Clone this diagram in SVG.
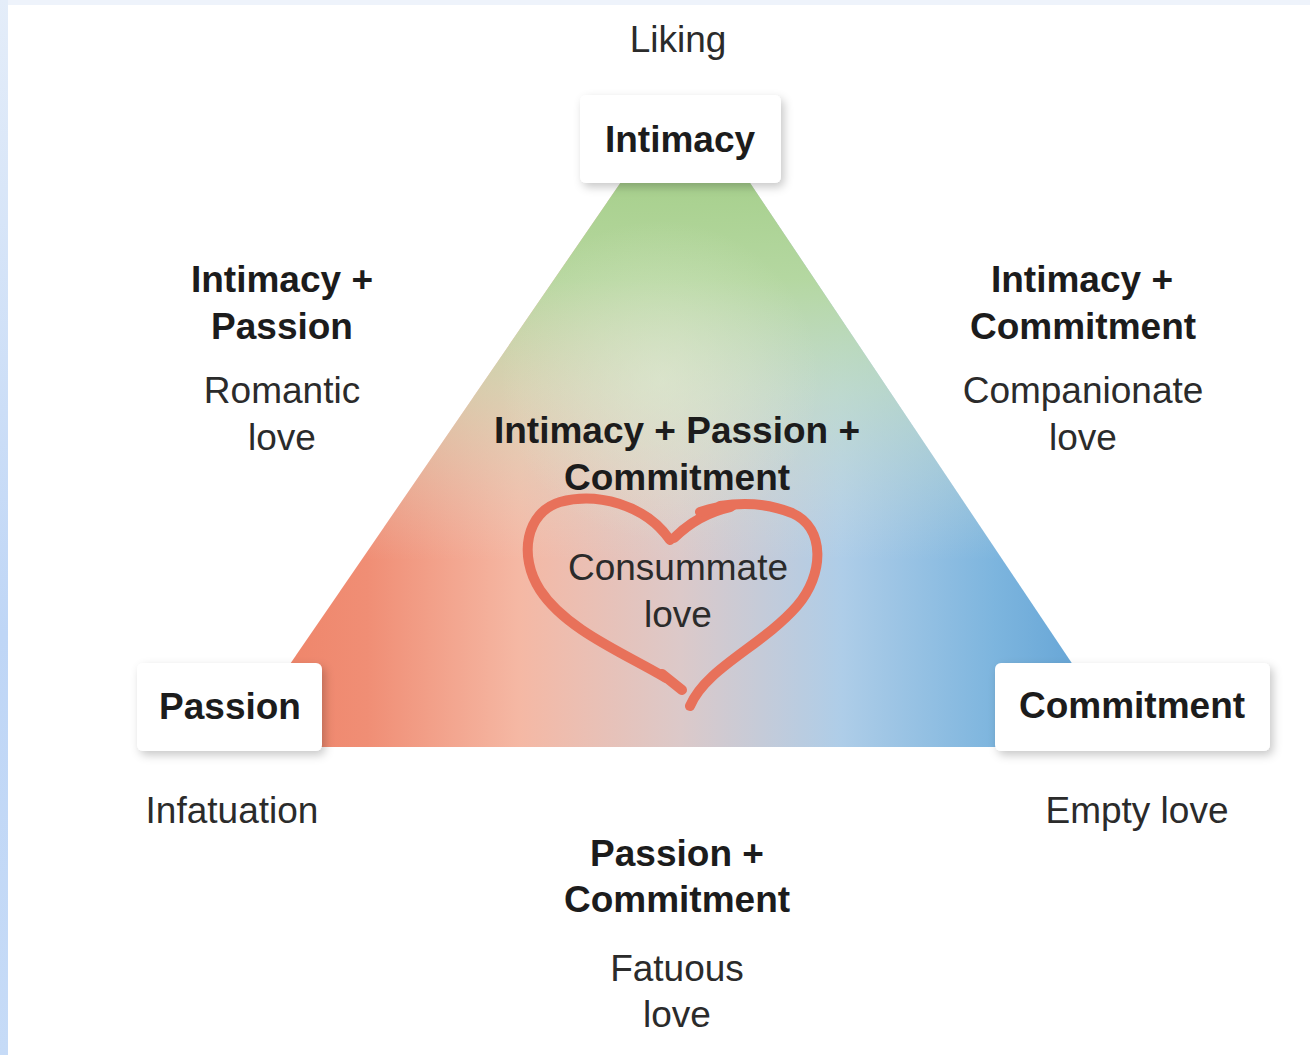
<svg xmlns="http://www.w3.org/2000/svg" width="1310" height="1055" viewBox="0 0 1310 1055">
<style>
  text { font-family: "Liberation Sans", Arial, sans-serif; font-size: 37px; text-anchor: middle; }
  .b { font-weight: bold; fill: #1c1c1c; }
  .r { fill: #2b2b2b; }
  .box { fill: #ffffff; filter: url(#shadow); }
  .heart { fill: none; stroke: #e8715a; stroke-width: 10; stroke-linecap: round; stroke-linejoin: round; }
</style>
<defs>
  <linearGradient id="leftStrip" x1="0" y1="0" x2="0" y2="1">
    <stop offset="0" stop-color="#e4edf9"/>
    <stop offset="0.6" stop-color="#bfd6f6"/>
    <stop offset="1" stop-color="#c6dbf7"/>
  </linearGradient>
  <linearGradient id="horiz" gradientUnits="userSpaceOnUse" x1="233" y1="0" x2="1128" y2="0">
    <stop offset="0" stop-color="#ee8064"/>
    <stop offset="0.15" stop-color="#f08e75"/>
    <stop offset="0.32" stop-color="#f5b8a4"/>
    <stop offset="0.5" stop-color="#dcc9c9"/>
    <stop offset="0.68" stop-color="#aecde8"/>
    <stop offset="0.85" stop-color="#7db5de"/>
    <stop offset="1" stop-color="#5a9dd2"/>
  </linearGradient>
  <linearGradient id="vert" gradientUnits="userSpaceOnUse" x1="0" y1="140" x2="0" y2="700">
    <stop offset="0" stop-color="#a1cd85" stop-opacity="1"/>
    <stop offset="0.25" stop-color="#b4d89e" stop-opacity="0.95"/>
    <stop offset="0.45" stop-color="#c8e1bc" stop-opacity="0.6"/>
    <stop offset="0.75" stop-color="#e0e6dc" stop-opacity="0"/>
  </linearGradient>
  <radialGradient id="glow" gradientUnits="userSpaceOnUse" cx="660" cy="380" r="160">
    <stop offset="0" stop-color="#e4efd8" stop-opacity="0.5"/>
    <stop offset="1" stop-color="#e4efd8" stop-opacity="0"/>
  </radialGradient>
  <filter id="shadow" x="-20%" y="-30%" width="140%" height="170%">
    <feDropShadow dx="3" dy="4" stdDeviation="5" flood-color="#000000" flood-opacity="0.22"/>
  </filter>
</defs>

<rect x="0" y="0" width="1310" height="1055" fill="#ffffff"/>
<rect x="0" y="0" width="1310" height="5" fill="#eef3fb"/>
<rect x="0" y="0" width="8" height="1055" fill="url(#leftStrip)"/>

<g id="connectors">
  <g id="triangle">
    <polygon points="643,150 728,150 1128,747 233,747" fill="url(#horiz)"/>
    <polygon points="643,150 728,150 1128,747 233,747" fill="url(#vert)"/>
    <polygon points="643,150 728,150 1128,747 233,747" fill="url(#glow)"/>
  </g>
</g>

<g id="heart">
  <path class="heart" d="M 670 540 C 645 504 596 492 560 502 C 526 512 518 556 540 590 C 566 630 626 654 666 678"/>
  <path class="heart" stroke-width="3" d="M 662 674 L 682 690"/>
  <path class="heart" stroke-width="3" d="M 674 538 C 690 522 708 512 730 507"/>
  <path class="heart" stroke-width="6" d="M 700 512 C 712 508 722 506 732 506"/>
  <path class="heart" d="M 720 506 C 745 502 770 504 792 513 C 826 528 824 575 797 606 C 762 646 706 668 690 706"/>
</g>

<g id="liking">
  <text class="r" x="678" y="52">Liking</text>
</g>

<g id="intimacy">
  <rect class="box" x="580" y="95" width="201" height="88" rx="6"/>
  <text class="b" x="680" y="152">Intimacy</text>
</g>

<g id="passion">
  <rect class="box" x="137" y="663" width="185" height="88" rx="6"/>
  <text class="b" x="230" y="719">Passion</text>
</g>

<g id="commitment">
  <rect class="box" x="995" y="663" width="275" height="88" rx="6"/>
  <text class="b" x="1132" y="718">Commitment</text>
</g>

<g id="romantic">
  <text class="b" x="282" y="292">Intimacy +</text>
  <text class="b" x="282" y="339">Passion</text>
  <text class="r" x="282" y="403">Romantic</text>
  <text class="r" x="282" y="450">love</text>
</g>

<g id="companionate">
  <text class="b" x="1082" y="292">Intimacy +</text>
  <text class="b" x="1083" y="339">Commitment</text>
  <text class="r" x="1083" y="403">Companionate</text>
  <text class="r" x="1083" y="450">love</text>
</g>

<g id="consummate">
  <text class="b" x="677" y="443">Intimacy + Passion +</text>
  <text class="b" x="677" y="490">Commitment</text>
  <text class="r" x="678" y="580">Consummate</text>
  <text class="r" x="678" y="627">love</text>
</g>

<g id="infatuation">
  <text class="r" x="232" y="823">Infatuation</text>
</g>

<g id="empty">
  <text class="r" x="1137" y="823">Empty love</text>
</g>

<g id="fatuous">
  <text class="b" x="677" y="866">Passion +</text>
  <text class="b" x="677" y="912">Commitment</text>
  <text class="r" x="677" y="981">Fatuous</text>
  <text class="r" x="677" y="1027">love</text>
</g>
</svg>
